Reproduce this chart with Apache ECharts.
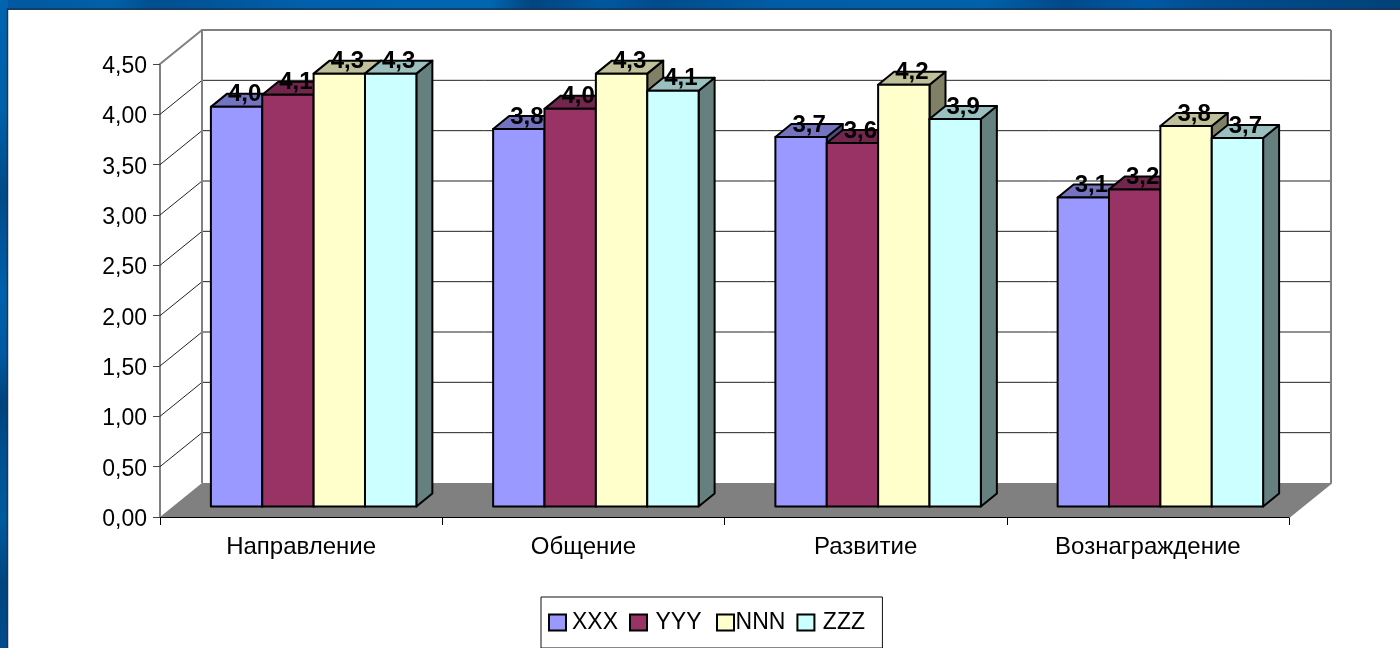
<!DOCTYPE html>
<html>
<head>
<meta charset="utf-8">
<style>html,body{margin:0;padding:0;background:#fff}#c{width:1400px;height:648px}</style>
<script src="https://cdn.jsdelivr.net/npm/echarts@6/dist/echarts.min.js"></script>
</head>
<body>
<div id="c"></div>
<script>
const categories = ['Направление', 'Общение', 'Развитие', 'Вознаграждение'];
const XXX = [3.97, 3.75, 3.67, 3.07];
const YYY = [4.09, 3.95, 3.61, 3.15];
const NNN = [4.30, 4.30, 4.19, 3.78];
const ZZZ = [4.30, 4.13, 3.85, 3.66];
const seriesNames = ['XXX', 'YYY', 'NNN', 'ZZZ'];
const seriesValues = [XXX, YYY, NNN, ZZZ];
const frontColors = ['#9999FF', '#993366', '#FFFFCC', '#CCFFFF'];
const topColors = ['#7373BF', '#73264D', '#BFBF99', '#99BFBF'];
const sideColors = ['#4D4D80', '#4D1A33', '#808066', '#668080'];
const yTicks = [0, 0.5, 1, 1.5, 2, 2.5, 3, 3.5, 4, 4.5];

const FONT = '"Liberation Sans", Arial, sans-serif';
const WALL = { x: 42, y: -34 };   // box depth
const BAR_SHIFT = { x: 12.5, y: -10.5 };  // front of the bars inside the box
const BAR_DEPTH = { x: 16, y: -13 };
const BAR_FRACTION = 0.182;
const GRAY = '#808080';

function fmt(v) { return (Math.round(v * 10 + 1e-6) / 10).toFixed(1).replace('.', ','); }

function floorItem(params, api) {
  const a = api.coord([0, 0]);
  const cs = params.coordSys;
  const l = cs.x, r = cs.x + cs.width, y = a[1];
  return {
    type: 'polygon', silent: true,
    shape: { points: [[l, y], [l + WALL.x, y + WALL.y], [r + WALL.x, y + WALL.y], [r, y]] },
    style: { fill: '#808080', stroke: 'none' }
  };
}

function wallItem(params, api) {
  const v = api.value(0);
  const y = api.coord([0, v])[1];
  const cs = params.coordSys;
  const l = cs.x, r = cs.x + cs.width;
  const children = [];
  const isTop = v === yTicks[yTicks.length - 1];
  if (v > 0) {
    children.push({
      type: 'polyline', silent: true,
      shape: { points: [[l, y], [l + WALL.x, y + WALL.y], [r + WALL.x, y + WALL.y]] },
      style: { stroke: isTop ? GRAY : '#222', lineWidth: isTop ? 2 : 1, fill: 'none' }
    });
  }
  if (isTop) {
    const by = api.coord([0, 0])[1] + WALL.y;
    children.push({
      type: 'line', silent: true,
      shape: { x1: l + WALL.x, y1: y + WALL.y, x2: l + WALL.x, y2: by },
      style: { stroke: GRAY, lineWidth: 2 }
    });
    children.push({
      type: 'polyline', silent: true,
      shape: { points: [[r + WALL.x, y + WALL.y], [r + WALL.x, by], [r, by - WALL.y]] },
      style: { stroke: GRAY, lineWidth: 2, fill: 'none' }
    });
  }
  return { type: 'group', children };
}

function barRenderer(si) {
  return function (params, api) {
    const cat = api.value(0), val = api.value(1);
    const top = api.coord([cat, val]);
    const base = api.coord([cat, 0]);
    const band = api.size([1, 0])[0];
    const w = band * BAR_FRACTION;
    const x0 = top[0] + BAR_SHIFT.x - 2 * w + si * w;
    const x1 = x0 + w;
    const y0 = base[1] + BAR_SHIFT.y;
    const y1 = top[1] + BAR_SHIFT.y;
    const dx = BAR_DEPTH.x, dy = BAR_DEPTH.y;
    const edge = { stroke: '#000', lineWidth: 2, lineJoin: 'round' };
    return {
      type: 'group',
      children: [
        { type: 'polygon', shape: { points: [[x1, y1], [x1 + dx, y1 + dy], [x1 + dx, y0 + dy], [x1, y0]] },
          style: { fill: sideColors[si], ...edge } },
        { type: 'polygon', shape: { points: [[x0, y1], [x0 + dx, y1 + dy], [x1 + dx, y1 + dy], [x1, y1]] },
          style: { fill: topColors[si], ...edge } },
        { type: 'rect', shape: { x: x0, y: y1, width: w, height: y0 - y1 },
          style: { fill: frontColors[si], ...edge } },
        { type: 'text', z2: 200, silent: true,
          style: { x: (x0 + x1) / 2 + 8, y: y1 - 12, text: fmt(val), fill: '#000',
            font: 'bold 24px ' + FONT, align: 'center', verticalAlign: 'middle' } }
      ]
    };
  };
}

const chart = echarts.init(document.getElementById('c'), null, { renderer: 'canvas' });
const series = [
  { type: 'custom', name: '_floor', coordinateSystem: 'cartesian2d', renderItem: floorItem,
    data: [[0]], encode: { y: 0 }, silent: true, clip: false, z: 1 },
  { type: 'custom', name: '_walls', coordinateSystem: 'cartesian2d', renderItem: wallItem,
    data: yTicks.map(v => [v]), encode: { y: 0 }, silent: true, clip: false, z: 1 }
];
seriesNames.forEach((name, si) => {
  series.push({
    type: 'custom', name, coordinateSystem: 'cartesian2d',
    renderItem: barRenderer(si),
    itemStyle: { color: frontColors[si], borderColor: '#000', borderWidth: 2 },
    encode: { x: 0, y: 1 },
    clip: false, z: 5, silent: true,
    data: seriesValues[si].map((v, i) => [i, v])
  });
});

const legendText = { fontFamily: FONT, fontSize: 23, color: '#000', backgroundColor: '#fff' };

chart.setOption({
  animation: false,
  backgroundColor: '#fff',
  graphic: [
    { type: 'rect', z: -10, silent: true, shape: { x: 0, y: 0, width: 1400, height: 10 },
      style: { fill: new echarts.graphic.LinearGradient(0, 0, 1, 0, [
        { offset: 0, color: '#0058A0' }, { offset: .08, color: '#0060A8' }, { offset: .11, color: '#004F90' },
        { offset: .22, color: '#0060AC' }, { offset: .30, color: '#0066B3' }, { offset: .35, color: '#0066B0' },
        { offset: .38, color: '#00457F' }, { offset: .43, color: '#0058A0' }, { offset: .47, color: '#004C8C' },
        { offset: .55, color: '#005CA5' }, { offset: .70, color: '#0062AC' }, { offset: .76, color: '#00498A' },
        { offset: .82, color: '#0058A4' }, { offset: .87, color: '#004C8E' }, { offset: 1, color: '#004278' }
      ]) } },
    { type: 'rect', z: -10, silent: true, shape: { x: 0, y: 0, width: 8, height: 648 },
      style: { fill: new echarts.graphic.LinearGradient(0, 0, 0, 1, [
        { offset: 0, color: '#0064B0' }, { offset: .17, color: '#0060A8' }, { offset: .30, color: '#004A88' },
        { offset: .45, color: '#0060AC' }, { offset: .55, color: '#0058A0' }, { offset: .62, color: '#00427C' },
        { offset: .70, color: '#005090' }, { offset: .80, color: '#005A9E' }, { offset: .90, color: '#004480' },
        { offset: 1, color: '#004C8C' }
      ]) } },
    { type: 'polyline', z: -9, silent: true, shape: { points: [[7.5, 648], [7.5, 9], [1400, 9]] },
      style: { stroke: '#1F3550', lineWidth: 1.5, fill: 'none' } }
  ],
  grid: { left: 160, right: 111, top: 64, bottom: 131, containLabel: false },
  xAxis: {
    type: 'category', data: categories, boundaryGap: true,
    axisLine: { show: true, onZero: false, lineStyle: { color: '#000', width: 1 } },
    axisTick: { show: true, length: 8, alignWithLabel: false, lineStyle: { color: '#000', width: 1 } },
    axisLabel: { color: '#000', fontFamily: FONT, fontSize: 24, margin: 18, interval: 0 },
    splitLine: { show: false }
  },
  yAxis: {
    type: 'value', min: 0, max: 4.5, interval: 0.5,
    axisLine: { show: true, lineStyle: { color: GRAY, width: 2 } },
    axisTick: { show: true, length: 7, lineStyle: { color: '#444', width: 1 } },
    axisLabel: { color: '#000', fontFamily: FONT, fontSize: 23, margin: 13,
      formatter: v => '{t|' + v.toFixed(2).replace('.', ',') + '}',
      rich: { t: { fontFamily: FONT, fontSize: 23, color: '#000', padding: [5, 0, 0, 0] } } },
    splitLine: { show: false }
  },
  legend: {
    show: true, left: 541, top: 597,
    data: seriesNames,
    icon: 'rect', itemWidth: 17, itemHeight: 16, itemGap: 11, itemStyle: { borderColor: '#000', borderWidth: 2 },
    formatter: n => '{' + n + '|' + n + '}',
    textStyle: { color: '#000', fontFamily: FONT, fontSize: 23,
      rich: {
        XXX: { width: 47, align: 'right', ...legendText },
        YYY: { width: 53, align: 'center', ...legendText },
        NNN: { width: 43, align: 'center', ...legendText },
        ZZZ: { width: 49, align: 'center', ...legendText }
      } },
    padding: [14, 14, 14, 7], borderColor: '#111', borderWidth: 1, backgroundColor: '#fff',
    selectedMode: false
  },
  series
});
</script>
</body>
</html>
